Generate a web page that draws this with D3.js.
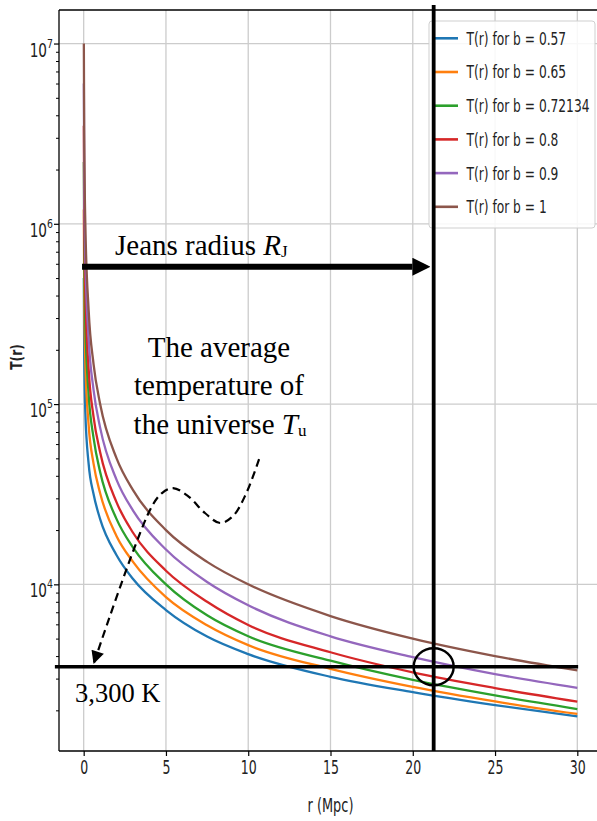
<!DOCTYPE html>
<html>
<head>
<meta charset="utf-8">
<script src="https://cdn.jsdelivr.net/npm/d3@7"></script>
<style>
  body { margin: 0; background: #fff; }
  svg { display: block; }
</style>
</head>
<body>
<div id="chart"></div>
<script>
// radius samples (Mpc) and temperature curves T(r) for each b
const rVals = [0.01, 0.03, 0.1, 0.3, 0.6, 1, 2, 3, 5, 7.5, 10, 15, 20, 25, 30];
const tB057 = [500000, 200000, 90000, 46700, 31700, 23000, 14500, 10700, 7200, 5130, 4100, 3070, 2525, 2140, 1850];
const tB065 = [1200000, 466700, 170000, 76700, 46700, 32000, 18500, 13330, 8500, 5930, 4600, 3400, 2700, 2240, 1910];
const tB072 = [2200000, 800000, 280000, 113300, 65000, 42000, 23000, 16000, 10000, 6730, 5150, 3770, 2950, 2420, 2033];
const tB080 = [3500000, 1266700, 420000, 156700, 85000, 54000, 28500, 19330, 11900, 8000, 5950, 4200, 3250, 2660, 2233];
const tB090 = [6000000, 2066700, 650000, 230000, 120000, 74000, 38000, 25670, 15600, 10300, 7650, 5150, 3950, 3180, 2667];
const tB100 = [10000000, 3333300, 1000000, 333300, 166700, 100000, 50000, 33330, 20000, 13330, 10000, 6670, 5000, 4000, 3333];

const bLabels = ["0.57", "0.65", "0.72134", "0.8", "0.9", "1"];
const seriesT = [tB057, tB065, tB072, tB080, tB090, tB100];
const colors = ["#1f77b4", "#ff7f0e", "#2ca02c", "#d62728", "#9467bd", "#8c564b"];

const xTicks = [0, 5, 10, 15, 20, 25, 30];
const yTicks = [1e4, 1e5, 1e6, 1e7];

// annotation positions in data units
const jeansR = 21.27;
const tUniverse = 3490;
const jeansArrowT = 578000;
const waveR = [10.66, 9.86, 9.08, 8.29, 7.37, 6.34, 5.43, 4.76, 4.03, 0.6];
const waveT = [49550, 31700, 23950, 21890, 24870, 30900, 34200, 32090, 25850, 3614];

const W = 597, H = 821;
const plot = { left: 59, top: 10, right: 602, bottom: 751 };

const svg = d3.select("#chart").append("svg")
  .attr("width", W)
  .attr("height", H)
  .attr("viewBox", `0 0 ${W} ${H}`);

const x = d3.scaleLinear().domain([-1.5, 31.5]).range([plot.left, plot.right]);
const y = d3.scaleLog().domain([Math.pow(10, 3.0755), Math.pow(10, 7.186)]).range([plot.bottom, plot.top]);

svg.append("clipPath").attr("id", "clip")
  .append("rect")
  .attr("x", plot.left).attr("y", plot.top)
  .attr("width", plot.right - plot.left).attr("height", plot.bottom - plot.top);

// grid
const grid = svg.append("g").attr("stroke", "#cccccc").attr("stroke-width", 1.3);
grid.selectAll(".gx").data(xTicks).join("line")
  .attr("x1", d => x(d)).attr("x2", d => x(d))
  .attr("y1", plot.top).attr("y2", plot.bottom);
grid.selectAll(".gy").data(yTicks).join("line")
  .attr("x1", plot.left).attr("x2", plot.right)
  .attr("y1", d => y(d)).attr("y2", d => y(d));

// curves
const line = d3.line()
  .curve(d3.curveMonotoneX)
  .x(d => x(d.r))
  .y(d => y(d.t));

const series = seriesT.map((ts, i) => ({
  b: bLabels[i],
  color: colors[i],
  values: rVals.map((r, j) => ({ r, t: ts[j] }))
}));

svg.append("g").attr("clip-path", "url(#clip)")
  .selectAll("path").data(series).join("path")
  .attr("fill", "none")
  .attr("stroke", d => d.color)
  .attr("stroke-width", 2.3)
  .attr("d", d => line(d.values));

// frame
const frame = svg.append("g").attr("stroke", "#000").attr("stroke-width", 1.3);
frame.append("line").attr("x1", plot.left).attr("x2", plot.left).attr("y1", plot.top).attr("y2", plot.bottom);
frame.append("line").attr("x1", plot.left).attr("x2", plot.right).attr("y1", plot.top).attr("y2", plot.top);
frame.append("line").attr("x1", plot.left).attr("x2", plot.right).attr("y1", plot.bottom).attr("y2", plot.bottom);
frame.append("line").attr("x1", plot.right).attr("x2", plot.right).attr("y1", plot.top).attr("y2", plot.bottom);

// x axis
const xAxis = svg.append("g")
  .attr("transform", `translate(0,${plot.bottom})`)
  .call(d3.axisBottom(x).tickValues(xTicks).tickSize(5).tickPadding(5));
xAxis.select(".domain").remove();
xAxis.selectAll(".tick line").attr("stroke-width", 1.2);
xAxis.selectAll(".tick text")
  .attr("font-family", "DejaVu Sans")
  .attr("font-size", 19)
  .attr("fill", "#222")
  .attr("transform", "scale(0.66,1)");

// y axis (major + minor ticks)
const yMinor = [];
for (let e = 3; e <= 7; e++) {
  for (let m = 2; m <= 9; m++) {
    const v = m * Math.pow(10, e);
    if (v >= y.domain()[0] && v <= y.domain()[1]) yMinor.push(v);
  }
}
const yAxis = svg.append("g")
  .attr("transform", `translate(${plot.left},0)`)
  .call(d3.axisLeft(y).tickValues(yTicks).tickSize(5).tickFormat(""));
yAxis.select(".domain").remove();
yAxis.selectAll(".tick line").attr("stroke-width", 1.2);
const yAxisMinor = svg.append("g")
  .attr("transform", `translate(${plot.left},0)`)
  .call(d3.axisLeft(y).tickValues(yMinor).tickSize(3).tickFormat(""));
yAxisMinor.select(".domain").remove();
yAxisMinor.selectAll(".tick line").attr("stroke-width", 1);

const yLab = svg.append("g").selectAll("g").data(yTicks).join("g")
  .attr("transform", d => `translate(53,${y(d) + 13}) scale(0.72,1)`)
  .append("text")
  .attr("text-anchor", "end")
  .attr("font-family", "DejaVu Sans")
  .attr("font-size", 19)
  .attr("fill", "#222");
yLab.append("tspan").text("10");
yLab.append("tspan").attr("font-size", 13).attr("dy", -9).text(d => Math.round(Math.log10(d)));

// axis titles
svg.append("g")
  .attr("transform", `translate(${(plot.left + plot.right) / 2},812) scale(0.68,1)`)
  .append("text")
  .attr("text-anchor", "middle")
  .attr("font-family", "DejaVu Sans")
  .attr("font-size", 19)
  .attr("fill", "#222")
  .text("r (Mpc)");

svg.append("g")
  .attr("transform", "translate(22,357) rotate(-90) scale(0.82,1)")
  .append("text")
  .attr("text-anchor", "middle")
  .attr("font-family", "DejaVu Sans")
  .attr("font-weight", "bold")
  .attr("font-size", 15)
  .attr("fill", "#222")
  .text("T(r)");

// legend
const legend = svg.append("g");
legend.append("rect")
  .attr("x", 429).attr("y", 21)
  .attr("width", 166).attr("height", 207)
  .attr("rx", 3)
  .attr("fill", "#fff").attr("fill-opacity", 0.85)
  .attr("stroke", "#cfcfcf").attr("stroke-width", 1);
const items = legend.selectAll(".item").data(series).join("g")
  .attr("transform", (d, i) => `translate(0,${38.3 + i * 33.7})`);
items.append("line")
  .attr("x1", 432).attr("x2", 458)
  .attr("stroke", d => d.color).attr("stroke-width", 2.6);
items.append("g")
  .attr("transform", "translate(466.5,0) scale(0.68,1)")
  .append("text")
  .attr("dy", "0.36em")
  .attr("font-family", "DejaVu Sans")
  .attr("font-size", 18)
  .attr("fill", "#222")
  .text(d => `T(r) for b = ${d.b}`);

// annotations
const defs = svg.append("defs");
defs.append("marker")
  .attr("id", "bigHead")
  .attr("viewBox", "0 0 10 10")
  .attr("refX", 0).attr("refY", 5)
  .attr("markerWidth", 18).attr("markerHeight", 18)
  .attr("markerUnits", "userSpaceOnUse")
  .attr("orient", "auto")
  .append("path").attr("d", "M0,0 L10,5 L0,10 z").attr("fill", "#000");
defs.append("marker")
  .attr("id", "smallHead")
  .attr("viewBox", "0 0 10 10")
  .attr("refX", 10).attr("refY", 5)
  .attr("markerWidth", 14).attr("markerHeight", 13)
  .attr("markerUnits", "userSpaceOnUse")
  .attr("orient", "auto")
  .append("path").attr("d", "M0,0 L10,5 L0,10 z").attr("fill", "#000");

const ann = svg.append("g");
// Jeans radius vertical line
ann.append("line")
  .attr("x1", x(jeansR)).attr("x2", x(jeansR))
  .attr("y1", 5).attr("y2", plot.bottom)
  .attr("stroke", "#000").attr("stroke-width", 3.8);
// 3,300 K horizontal line
ann.append("line")
  .attr("x1", x(-1.75)).attr("x2", x(30.05))
  .attr("y1", y(tUniverse)).attr("y2", y(tUniverse))
  .attr("stroke", "#000").attr("stroke-width", 3.4);
// circle at the crossing
ann.append("ellipse")
  .attr("cx", x(jeansR)).attr("cy", y(tUniverse))
  .attr("rx", 20).attr("ry", 18.5)
  .attr("fill", "none").attr("stroke", "#000").attr("stroke-width", 2.4);
// Jeans radius arrow
ann.append("line")
  .attr("x1", x(-0.1)).attr("x2", x(21.07) - 18)
  .attr("y1", y(jeansArrowT)).attr("y2", y(jeansArrowT))
  .attr("stroke", "#000").attr("stroke-width", 6)
  .attr("marker-end", "url(#bigHead)");
// dashed wavy arrow
const wave = d3.line().curve(d3.curveCatmullRom.alpha(0.5))
  .x(d => x(d[0])).y(d => y(d[1]));
ann.append("path")
  .attr("d", wave(waveR.map((r, i) => [r, waveT[i]])))
  .attr("fill", "none")
  .attr("stroke", "#000").attr("stroke-width", 2.2)
  .attr("stroke-dasharray", "8,5")
  .attr("marker-end", "url(#smallHead)");

const serif = "Liberation Serif, Times New Roman, serif";
const jt = ann.append("text")
  .attr("x", 115).attr("y", 255)
  .attr("font-family", serif).attr("font-size", 29).attr("fill", "#000");
jt.append("tspan").text("Jeans radius ");
jt.append("tspan").attr("font-style", "italic").text("R");
jt.append("tspan").attr("font-size", 17).attr("dy", 2).text("J");

const tLines = ["The average", "temperature of"];
ann.selectAll(".tl").data(tLines).join("text")
  .attr("x", 219).attr("y", (d, i) => 357 + i * 38.3)
  .attr("text-anchor", "middle")
  .attr("font-family", serif).attr("font-size", 29).attr("fill", "#000")
  .text(d => d);
const tu = ann.append("text")
  .attr("x", 220).attr("y", 357 + 2 * 38.3)
  .attr("text-anchor", "middle")
  .attr("font-family", serif).attr("font-size", 29).attr("fill", "#000");
tu.append("tspan").text("the universe ");
tu.append("tspan").attr("font-style", "italic").text("T");
tu.append("tspan").attr("font-size", 17).attr("dy", 2).text("u");

ann.append("text")
  .attr("x", 75).attr("y", 702)
  .attr("font-family", serif).attr("font-size", 26.5).attr("fill", "#000")
  .text("3,300 K");
</script>
</body>
</html>
